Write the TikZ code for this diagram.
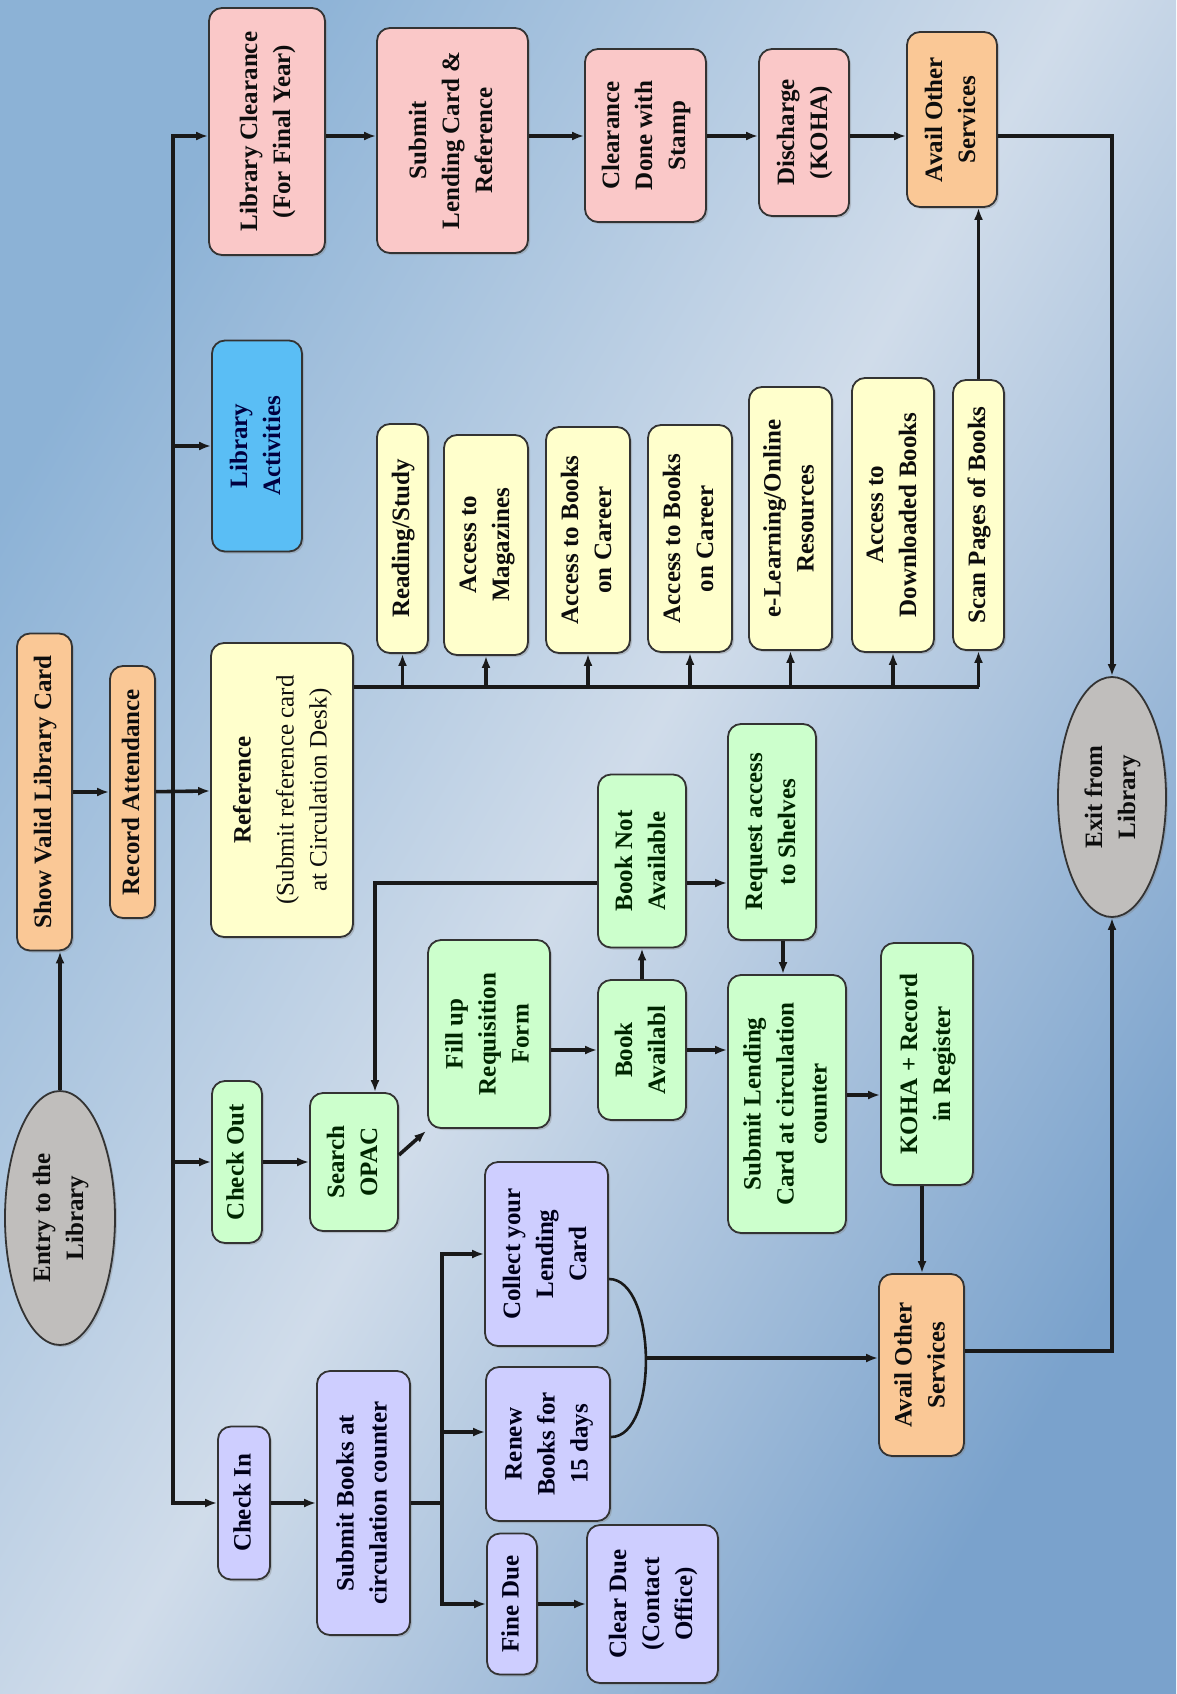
\documentclass[tikz,border=0pt]{standalone}
\usepackage{fontspec}
\setmainfont{Liberation Serif}
\usepackage{graphicx}
\usetikzlibrary{shapes.geometric, shadows, calc, arrows.meta}

\definecolor{pinkfill}{RGB}{250,200,200}
\definecolor{orangefill}{RGB}{250,200,150}
\definecolor{bluefill}{RGB}{90,190,245}
\definecolor{yellowfill}{RGB}{255,255,204}
\definecolor{greenfill}{RGB}{204,255,204}
\definecolor{purplefill}{RGB}{206,206,255}
\definecolor{greyfill}{RGB}{192,190,188}
\definecolor{bglight}{RGB}{208,220,234}
\definecolor{bgmid}{RGB}{140,178,214}
\definecolor{bgdark}{RGB}{122,162,204}

\newcommand{\uptext}[1]{\rotatebox{90}{\begin{tabular}{@{}c@{}}#1\end{tabular}}}

\begin{document}
\begin{tikzpicture}[x=1pt, y=-1pt,
	card/.style={draw=black!80, line width=1.8pt, rounded corners=13pt, inner sep=0pt,
		text=black!95, font=\fontsize{25}{33}\selectfont\bfseries,
		drop shadow={opacity=0.35, shadow xshift=2pt, shadow yshift=-2pt}},
	wh/.style 2 args={minimum width=#1, minimum height=#2},
	pinkbox/.style={card, fill=pinkfill},
	orangebox/.style={card, fill=orangefill},
	bluebox/.style={card, fill=bluefill, text=blue!25!black},
	yellowbox/.style={card, fill=yellowfill},
	greenbox/.style={card, fill=greenfill, text=green!15!black},
	purplebox/.style={card, fill=purplefill, text=blue!10!black},
	oval/.style={card, ellipse, fill=greyfill},
	flow/.style={->, >={Latex[length=12pt,width=9pt]}, line width=3.6pt, black!90},
	wire/.style={line width=3.6pt, black!90}
]
	\useasboundingbox (0,0) rectangle (1176,1694);
	\shade[left color=bgmid, right color=bgdark, middle color=bglight, shading angle=60]
		(0,0) rectangle (1176,1694);

	% entry and the main trunk
	\node[oval, wh={110}{254}] (entry) at (60,1218) {\uptext{Entry to the\\Library}};
	\node[orangebox, wh={55}{317}] (showcard) at (44.5,792) {\uptext{Show Valid Library Card}};
	\node[orangebox, wh={45}{252}] (recattend) at (132.5,792) {\uptext{Record Attendance}};
	\coordinate (trunk) at (173,792);

	\draw[flow] (entry.north) -- (entry.north |- showcard.south);
	\draw[flow] (showcard) -- (recattend);

	% library clearance row
	\coordinate (row) at (0,136);
	\node[pinkbox, wh={116}{247}] (clearance) at (267,131.5)
		{\uptext{Library Clearance\\(For Final Year)}};
	\node[pinkbox, wh={151}{225}] (submitcard) at (452.5,140.5)
		{\uptext{Submit\\Lending Card \&\\Reference}};
	\node[pinkbox, wh={121}{173}] (stamp) at (645.5,135.5)
		{\uptext{Clearance\\Done with\\Stamp}};
	\node[pinkbox, wh={90}{167}] (discharge) at (804,132.5)
		{\uptext{Discharge\\(KOHA)}};
	\node[orangebox, wh={90}{175}] (availtop) at (952,119.5)
		{\uptext{Avail Other\\Services}};

	\draw[flow] (trunk) |- (row -| clearance.west);
	\draw[flow] (row -| clearance.east) -- (row -| submitcard.west);
	\draw[flow] (row -| submitcard.east) -- (row -| stamp.west);
	\draw[flow] (row -| stamp.east) -- (row -| discharge.west);
	\draw[flow] (row -| discharge.east) -- (row -| availtop.west);

	\node[bluebox, wh={90}{211}] (activities) at (257,446) {\uptext{Library\\Activities}};
	\draw[flow] (trunk) |- (activities);

	% reference and its services
	\node[yellowbox, wh={142}{294}] (refer) at (282,790)
		{\uptext{Reference\\[10pt]\mdseries(Submit reference card\\\mdseries at Circulation Desk)}};
	\draw[flow] (recattend) -- (refer);

	\node[yellowbox, wh={51}{229}] (reading) at (402.5,538.5) {\uptext{Reading/Study}};
	\node[yellowbox, wh={84}{220}] (magazines) at (486,545) {\uptext{Access to\\Magazines}};
	\node[yellowbox, wh={84}{226}] (career1) at (588,540) {\uptext{Access to Books\\on Career}};
	\node[yellowbox, wh={84}{227}] (career2) at (690,538.5) {\uptext{Access to Books\\on Career}};
	\node[yellowbox, wh={83}{263}] (elearn) at (790.5,518.5) {\uptext{e-Learning/Online\\Resources}};
	\node[yellowbox, wh={82}{274}] (downloaded) at (893,515) {\uptext{Access to\\Downloaded Books}};
	\node[yellowbox, wh={51}{270}] (scan) at (978.5,515) {\uptext{Scan Pages of Books}};

	\coordinate (bus) at (0,687);
	\draw[wire] (bus -| refer.east) -- (bus -| scan);
	\foreach \svc in {reading, magazines, career1, career2, elearn, downloaded, scan}
		\draw[flow] (bus -| \svc) -- (\svc.south);
	\draw[flow] (scan.north) -- (scan.north |- availtop.south);

	\node[oval, wh={108}{240}] (exit) at (1112,797) {\uptext{Exit from\\Library}};
	\draw[flow] (row -| availtop.east) -| (exit.north);

	% check out
	\node[greenbox, wh={50}{162}] (checkout) at (237,1162) {\uptext{Check Out}};
	\node[greenbox, wh={88}{138}] (opac) at (354,1162) {\uptext{Search\\OPAC}};
	\node[greenbox, wh={122}{188}] (fillform) at (489,1034) {\uptext{Fill up\\Requisition\\Form}};
	\node[greenbox, wh={88}{140}] (bookavail) at (642,1050) {\uptext{Book\\Availabl}};
	\node[greenbox, wh={88}{173}] (notavail) at (642,861) {\uptext{Book Not\\Available}};
	\node[greenbox, wh={88}{216}] (reqshelf) at (772,832) {\uptext{Request access\\to Shelves}};
	\node[greenbox, wh={118}{258}] (submitlend) at (787,1104)
		{\uptext{Submit Lending\\Card at circulation\\counter}};
	\node[greenbox, wh={92}{242}] (koha) at (927,1064) {\uptext{KOHA + Record\\in Register}};
	\node[orangebox, wh={85}{182}] (availbot) at (921.5,1365) {\uptext{Avail Other\\Services}};

	\draw[flow] (trunk) |- (checkout);
	\draw[flow] (checkout) -- (opac);
	\draw[flow] ([yshift=7pt]opac.east) -- ([shift={(-1pt,-2pt)}]fillform.south west);
	\draw[flow] (fillform.east |- bookavail) -- (bookavail.west);
	\draw[flow] (bookavail) -- (notavail);
	\coordinate (back) at ($(notavail.west)+(0,22)$);
	\draw[flow] (back) -| ([xshift=21pt]opac.north);
	\draw[flow] (back -| notavail.east) -- (back -| reqshelf.west);
	\draw[flow] (bookavail.east) -- (bookavail.east -| submitlend.west);
	\draw[flow] ([xshift=11pt]reqshelf.south) -- ([xshift=11pt]reqshelf.south |- submitlend.north);
	\draw[flow] ([yshift=9pt]submitlend.east) -- ([yshift=9pt]submitlend.east -| koha.west);
	\draw[flow] ([xshift=-5pt]koha.south) -- ([xshift=-5pt]koha.south |- availbot.north);
	\draw[flow] ([yshift=14pt]availbot.east) -| (exit.south);

	% check in
	\node[purplebox, wh={52}{153}] (checkin) at (244,1503) {\uptext{Check In}};
	\node[purplebox, wh={93}{264}] (submitbooks) at (363.5,1503)
		{\uptext{Submit Books at\\circulation counter}};
	\node[purplebox, wh={123}{184}] (collect) at (546.5,1254) {\uptext{Collect your\\Lending\\Card}};
	\node[purplebox, wh={124}{154}] (renew) at (548,1444) {\uptext{Renew\\Books for\\15 days}};
	\node[purplebox, wh={50}{141}] (finedue) at (512,1604) {\uptext{Fine Due}};
	\node[purplebox, wh={131}{158}] (cleardue) at (652.5,1604) {\uptext{Clear Due\\(Contact\\Office)}};
	\coordinate (fork) at (442,1503);
	\coordinate (merge) at (645,1358);

	\draw[flow] (trunk) |- (checkin);
	\draw[flow] (checkin) -- (submitbooks);
	\draw[wire] (submitbooks.east) -- (fork);
	\draw[flow] (fork) |- (collect);
	\draw[flow] (fork) |- ([yshift=12pt]renew.west);
	\draw[flow] (fork) |- (finedue);
	\draw[flow] (finedue) -- (cleardue);
	\draw[wire, line width=2.6pt] ([yshift=-25pt]collect.east)
		.. controls +(48,0) and +(48,0) .. ([yshift=7pt]renew.east);
	\draw[flow] (merge) -- (merge -| availbot.west);
\end{tikzpicture}
\end{document}
